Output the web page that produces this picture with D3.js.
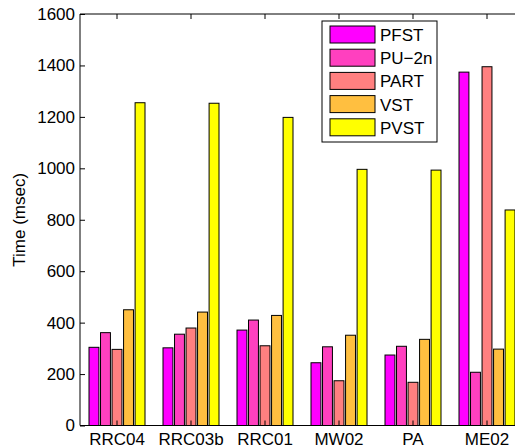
<!DOCTYPE html>
<html>
<head>
<meta charset="utf-8">
<script src="https://cdn.jsdelivr.net/npm/d3@7"></script>
<style>
  html, body { margin: 0; padding: 0; background: #fff; overflow: hidden; }
  svg { display: block; font-family: "Liberation Sans", Arial, sans-serif; }
</style>
</head>
<body>
<svg id="chart" width="515" height="448"></svg>
<script>
// --- data ---
const categories = ['RRC04', 'RRC03b', 'RRC01', 'MW02', 'PA', 'ME02'];
const seriesNames = ['PFST', 'PU\u22122n', 'PART', 'VST', 'PVST'];
const seriesColors = ['#ff00ff', '#ff40bf', '#ff8080', '#ffbf40', '#ffff00'];
const pfst = [304, 302, 371, 244, 274, 1374];
const pu2n = [361, 355, 410, 306, 308, 207];
const part = [296, 379, 310, 174, 168, 1395];
const vst = [450, 441, 428, 351, 335, 297];
const pvst = [1255, 1253, 1198, 996, 993, 838];
const yTicks = [0, 200, 400, 600, 800, 1000, 1200, 1400, 1600];

const seriesValues = [pfst, pu2n, part, vst, pvst];

const svg = d3.select('#chart');
const plot = { left: 80, right: 524, top: 14, bottom: 425.5 };
const FONT = 17;

const x = d3.scaleBand()
  .domain(categories)
  .range([plot.left, plot.right])
  .padding(0);

const xInner = d3.scaleBand()
  .domain(d3.range(seriesNames.length))
  .range([-28, 28])
  .paddingInner(0.14);

const y = d3.scaleLinear()
  .domain([0, 1600])
  .range([plot.bottom, plot.top]);

// bars
const groups = svg.append('g')
  .selectAll('g')
  .data(categories)
  .join('g')
  .attr('transform', d => `translate(${x(d) + x.bandwidth() / 2},0)`);

groups.selectAll('rect')
  .data((c, ci) => seriesValues.map((vals, si) => ({ si, v: vals[ci] })))
  .join('rect')
  .attr('x', d => xInner(d.si))
  .attr('width', xInner.bandwidth())
  .attr('y', d => y(d.v))
  .attr('height', d => y(0) - y(d.v))
  .attr('fill', d => seriesColors[d.si])
  .attr('stroke', '#000')
  .attr('stroke-width', 1);

// axes box
const axisColor = '#000';
svg.append('line')
  .attr('x1', plot.left).attr('x2', plot.right)
  .attr('y1', plot.top).attr('y2', plot.top)
  .attr('stroke', axisColor);
svg.append('line')
  .attr('x1', plot.left).attr('x2', plot.right)
  .attr('y1', plot.bottom).attr('y2', plot.bottom)
  .attr('stroke', axisColor);
svg.append('line')
  .attr('x1', plot.left).attr('x2', plot.left)
  .attr('y1', plot.top).attr('y2', plot.bottom)
  .attr('stroke', axisColor);

// y axis, ticks pointing inward
const yAxis = svg.append('g')
  .attr('transform', `translate(${plot.left},0)`)
  .call(d3.axisLeft(y).tickValues(yTicks).tickFormat(d3.format('d'))
    .tickSizeInner(-5).tickSizeOuter(0).tickPadding(5));
yAxis.select('.domain').remove();
yAxis.selectAll('text').attr('font-size', FONT).attr('fill', '#000').attr('font-family', null);
yAxis.selectAll('line').attr('stroke', axisColor);

// x axis labels, ticks on the top edge pointing down
const xAxis = svg.append('g')
  .attr('transform', `translate(0,${plot.bottom})`)
  .call(d3.axisBottom(x).tickSizeInner(-5).tickSizeOuter(0).tickPadding(7));
xAxis.select('.domain').remove();
xAxis.selectAll('text').attr('font-size', FONT).attr('fill', '#000').attr('font-family', null);
xAxis.selectAll('line').attr('stroke', axisColor);

svg.append('g')
  .attr('transform', `translate(0,${plot.top})`)
  .call(d3.axisTop(x).tickSizeInner(-5).tickSizeOuter(0).tickFormat(''))
  .call(g => g.select('.domain').remove())
  .selectAll('line').attr('stroke', axisColor);

// y label
svg.append('text')
  .attr('transform', `translate(25,${(plot.top + plot.bottom) / 2}) rotate(-90)`)
  .attr('text-anchor', 'middle')
  .attr('font-size', FONT)
  .text('Time (msec)');

// legend
const legend = svg.append('g').attr('transform', 'translate(322,21)');
legend.append('rect')
  .attr('width', 115).attr('height', 121)
  .attr('fill', '#fff').attr('stroke', '#000');
const item = legend.selectAll('g.item')
  .data(seriesNames)
  .join('g')
  .attr('class', 'item')
  .attr('transform', (d, i) => `translate(8,${5 + i * 23.2})`);
item.append('rect')
  .attr('width', 45).attr('height', 17)
  .attr('fill', (d, i) => seriesColors[i])
  .attr('stroke', '#000');
item.append('text')
  .attr('x', 50).attr('y', 15)
  .attr('font-size', FONT)
  .text(d => d);
</script>
</body>
</html>
